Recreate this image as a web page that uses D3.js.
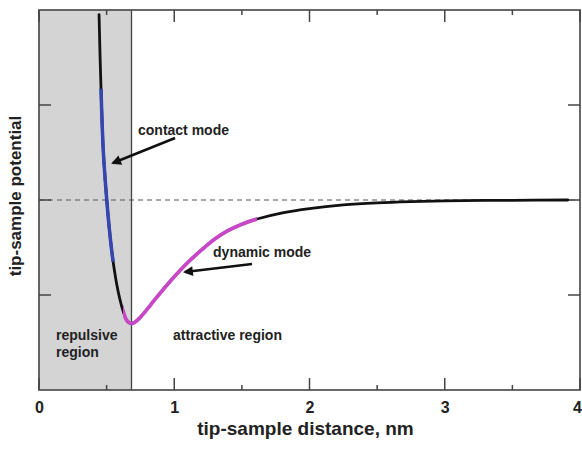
<!DOCTYPE html>
<html>
<head>
<meta charset="utf-8">
<script src="https://cdn.jsdelivr.net/npm/d3@7"></script>
<style>
  html, body { margin: 0; padding: 0; background: #fff; }
  svg { display: block; font-family: "Liberation Sans", Arial, sans-serif; font-weight: bold; }
</style>
</head>
<body>
<svg id="chart" width="582" height="449"></svg>
<script>
// ---- data ----
const distance = [0.444, 0.452, 0.462, 0.476, 0.501, 0.52, 0.538, 0.556, 0.575, 0.598, 0.621, 0.645, 0.665, 0.685, 0.705, 0.73, 0.76, 0.80, 0.85, 0.90, 1.00, 1.10, 1.20, 1.30, 1.40, 1.50, 1.612, 1.8, 2.0, 2.25, 2.5, 2.75, 3.0, 3.5, 3.91];
const potential = [1.95, 1.486, 1.006, 0.502, 0.0, -0.304, -0.538, -0.727, -0.889, -1.045, -1.167, -1.258, -1.29, -1.30, -1.29, -1.262, -1.217, -1.149, -1.06, -0.973, -0.808, -0.658, -0.528, -0.41, -0.32, -0.255, -0.20, -0.135, -0.09, -0.052, -0.03, -0.017, -0.009, -0.003, 0.0];
const contactPotentialRange = [1.17, -0.649];
const dynamicRange = [0.621, 1.612];
const repulsiveLimit = 0.684;
const xTicksMajor = [0, 1, 2, 3, 4];
const xTicksMinor = [0.5, 1.5, 2.5, 3.5];
const yTicks = [-1, 0, 1];
const xDomain = [0, 4];
const yDomain = [-2, 2];
const xLabel = "tip-sample distance, nm";
const yLabel = "tip-sample potential";

// ---- layout ----
const svg = d3.select("#chart");
const L = 39, R = 580, T = 10, B = 390;
const x = d3.scaleLinear().domain(xDomain).range([L, R]);
const y = d3.scaleLinear().domain(yDomain).range([B, T]);

const pts = distance.map((d, i) => ({x: d, y: potential[i]}));

// gray repulsive region
svg.append("rect")
  .attr("x", x(0)).attr("y", T)
  .attr("width", x(repulsiveLimit) - x(0)).attr("height", B - T)
  .attr("fill", "#d4d4d4");
svg.append("line")
  .attr("x1", x(repulsiveLimit)).attr("x2", x(repulsiveLimit))
  .attr("y1", T).attr("y2", B)
  .attr("stroke", "#444").attr("stroke-width", 1.3);

// zero dashed line
svg.append("line")
  .attr("x1", L).attr("x2", R)
  .attr("y1", y(0)).attr("y2", y(0))
  .attr("stroke", "#555").attr("stroke-width", 1.2)
  .attr("stroke-dasharray", "5,4");

// bottom axis labels
const bottom = d3.axisBottom(x).tickValues(xTicksMajor).tickSize(0).tickPadding(12).tickFormat(d3.format("d"));
const gB = svg.append("g").attr("transform", `translate(0,${B})`).call(bottom);
gB.select(".domain").remove();
gB.selectAll("text").attr("font-size", 16).attr("font-weight", "bold").attr("fill", "#222")
  .attr("font-family", "Liberation Sans, Arial, sans-serif")
  .attr("dx", d => d === xDomain[1] ? -3 : 0);

const fr = "#444";
const tickG = svg.append("g").attr("stroke", fr).attr("stroke-width", 1.5);
xTicksMajor.forEach(v => {
  tickG.append("line").attr("x1", x(v)).attr("x2", x(v)).attr("y1", B).attr("y2", B - 12);
  tickG.append("line").attr("x1", x(v)).attr("x2", x(v)).attr("y1", T).attr("y2", T + 12);
});
xTicksMinor.forEach(v => {
  tickG.append("line").attr("x1", x(v)).attr("x2", x(v)).attr("y1", B).attr("y2", B - 5);
  tickG.append("line").attr("x1", x(v)).attr("x2", x(v)).attr("y1", T).attr("y2", T + 5);
});
yTicks.forEach(v => {
  tickG.append("line").attr("x1", L).attr("x2", L + 12).attr("y1", y(v)).attr("y2", y(v));
  tickG.append("line").attr("x1", R).attr("x2", R - 12).attr("y1", y(v)).attr("y2", y(v));
});

// curve: one smooth path, coloured parts via clipping
const line = d3.line().x(d => x(d.x)).y(d => y(d.y)).curve(d3.curveCatmullRom.alpha(0.5));
const defs = svg.append("defs");
defs.append("clipPath").attr("id", "cContact").append("rect")
  .attr("x", L).attr("y", y(contactPotentialRange[0]))
  .attr("width", x(repulsiveLimit) - L)
  .attr("height", y(contactPotentialRange[1]) - y(contactPotentialRange[0]));
defs.append("clipPath").attr("id", "cDynamic").append("rect")
  .attr("x", x(dynamicRange[0])).attr("y", 0)
  .attr("width", x(dynamicRange[1]) - x(dynamicRange[0])).attr("height", 449);

svg.append("path").datum(pts).attr("d", line)
  .attr("fill", "none").attr("stroke", "#111").attr("stroke-width", 2.8).attr("stroke-linecap", "round");
svg.append("path").datum(pts).attr("d", line).attr("clip-path", "url(#cContact)")
  .attr("fill", "none").attr("stroke", "#3546b0").attr("stroke-width", 3.5);
svg.append("path").datum(pts).attr("d", line).attr("clip-path", "url(#cDynamic)")
  .attr("fill", "none").attr("stroke", "#c847c8").attr("stroke-width", 3.7);

// frame
svg.append("rect").attr("x", L).attr("y", T).attr("width", R - L).attr("height", B - T)
  .attr("fill", "none").attr("stroke", fr).attr("stroke-width", 1.6);

// arrows
defs.append("marker").attr("id", "ah").attr("viewBox", "0 0 10 10")
  .attr("refX", 8).attr("refY", 5).attr("markerWidth", 4.6).attr("markerHeight", 3.8)
  .attr("markerUnits", "strokeWidth").attr("orient", "auto")
  .append("path").attr("d", "M0,0 L10,5 L0,10 z").attr("fill", "#111");
function arrow(x1, y1, x2, y2) {
  svg.append("line")
    .attr("x1", x(x1)).attr("y1", y(y1)).attr("x2", x(x2)).attr("y2", y(y2))
    .attr("stroke", "#111").attr("stroke-width", 2.6).attr("marker-end", "url(#ah)");
}
arrow(1.006, 0.653, 0.547, 0.389);
arrow(1.575, -0.674, 1.079, -0.758);

// annotation texts
function txt(t, xv, yv) {
  svg.append("text").attr("x", x(xv)).attr("y", y(yv))
    .attr("font-size", 14).attr("fill", "#222").text(t);
}
txt("contact mode", 0.732, 0.684);
txt("dynamic mode", 1.287, -0.6);
txt("repulsive", 0.126, -1.474);
txt("region", 0.126, -1.653);
txt("attractive region", 0.991, -1.474);

// axis titles
svg.append("text").attr("x", (L + R) / 2 - 4).attr("y", 435)
  .attr("text-anchor", "middle").attr("font-size", 19).attr("fill", "#222").text(xLabel);
svg.append("text").attr("transform", `translate(21,196) rotate(-90)`)
  .attr("text-anchor", "middle").attr("font-size", 17).attr("fill", "#222").text(yLabel);
</script>
</body>
</html>
